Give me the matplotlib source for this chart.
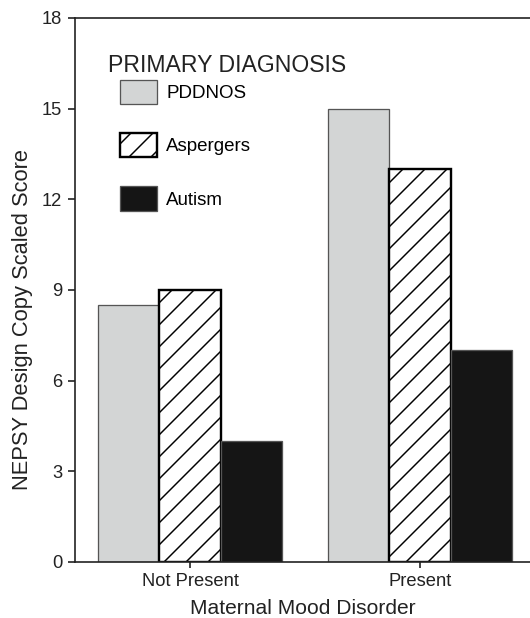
import matplotlib
matplotlib.use("Agg")
import matplotlib.pyplot as plt
import numpy as np
from matplotlib.patches import Patch

plt.rcParams["font.family"] = ["Liberation Sans", "DejaVu Sans"]
plt.rcParams["hatch.linewidth"] = 0.8

# data
groups = ["Not Present", "Present"]
diagnoses = ["PDDNOS", "Aspergers", "Autism"]
pddnos = [8.5, 15.0]
aspergers = [9.0, 13.0]
autism = [4.0, 7.0]

DPI = 132.5
fig = plt.figure(figsize=(530 / DPI, 618 / DPI), dpi=DPI)
ax = fig.add_axes([75 / 530, 1 - 562 / 618, 1 - 75 / 530, (562 - 18) / 618])

x = np.arange(len(groups))
w = 0.267
ax.bar(x - w, pddnos, w, color="#d3d5d5", edgecolor="#555555", linewidth=0.7)
ax.bar(x, aspergers, w, color="white", edgecolor="black", linewidth=1.3, hatch="//")
ax.bar(x + w, autism, w, color="#151515", edgecolor="#555555", linewidth=0.7)

ax.set_xlim(-0.5, 1.478)
ax.set_ylim(0, 18)
ax.set_yticks([0, 3, 6, 9, 12, 15, 18])
ax.set_xticks(x)
ax.set_xticklabels(groups)
ax.spines["right"].set_visible(False)
for s in ("left", "top", "bottom"):
    ax.spines[s].set_linewidth(0.9)
    ax.spines[s].set_color("#222222")
ax.tick_params(axis="y", length=4, width=0.9, labelsize=10, pad=3, colors="#222222")
ax.tick_params(axis="x", length=3, width=0.9, labelsize=10, pad=3, colors="#222222")

ax.set_ylabel("NEPSY Design Copy Scaled Score", fontsize=11.9, color="#222222")
ax.yaxis.set_label_coords(-0.092, 0.445)
ax.set_xlabel("Maternal Mood Disorder", fontsize=11.4, color="#222222", labelpad=5)

ax.text(0.0725, 0.9136, "PRIMARY DIAGNOSIS", transform=ax.transAxes, fontsize=12.5,
        color="#222222", ha="left", va="center")
handles = [
    Patch(facecolor="#d3d5d5", edgecolor="#555555", linewidth=0.7),
    Patch(facecolor="white", edgecolor="black", linewidth=1.3, hatch="//"),
    Patch(facecolor="#151515", edgecolor="#555555", linewidth=0.7),
]
ax.legend(handles, diagnoses, loc="upper left", bbox_to_anchor=(0.099, 0.886),
          frameon=False, fontsize=10.2, handlelength=1.97, handleheight=1.6,
          labelspacing=1.55, handletextpad=0.48, borderpad=0, borderaxespad=0)

fig.savefig("out.png", dpi=DPI)
